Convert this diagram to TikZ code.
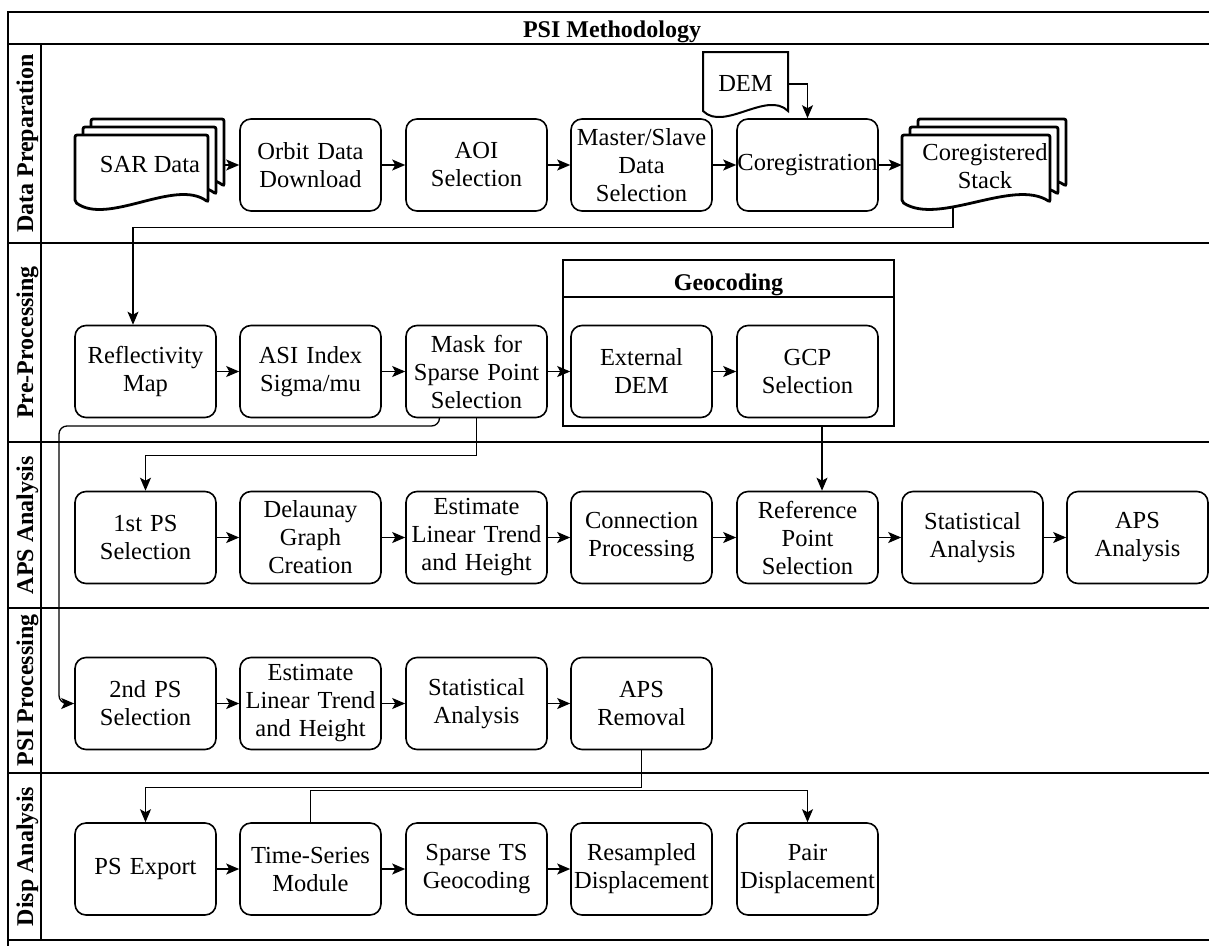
\documentclass[tikz,border=0pt]{standalone}
\usepackage{fontspec}
\setmainfont{Liberation Serif}
\usetikzlibrary{arrows.meta}

\begin{document}
\begin{tikzpicture}[x=1pt,y=-1pt]
	\tikzstyle{proc}=[draw, line width=1.6pt, rounded corners=11pt, text width=141pt, minimum height=92pt, inner sep=0pt, align=center, font=\fontsize{24.5}{28}\selectfont]
	\tikzstyle{lanetitle}=[rotate=90, anchor=base, font=\bfseries\fontsize{24}{28}\selectfont]
	\tikzstyle{arr}=[-{Stealth[length=13pt,width=11pt,inset=3pt]}, line width=1.3pt]
	\tikzstyle{sheet}=[draw, fill=white, line width=2.8pt, rounded corners=2pt]
	\tikzstyle{pool}=[line width=2pt]
	
	\path[use as bounding box, clip] (0,0) rectangle (1209,945);
	
	% pool and lanes
	\draw[pool] (1220,12) -- (8,12) -- (8,950);
	\foreach \y in {44,243,442,608,773,940}
		\draw[pool] (8,\y) -- (1220,\y);
	\draw[pool] (41,44) -- (41,940);
	\node[font=\bfseries\fontsize{24}{28}\selectfont, anchor=base] (title) at (612,37) {PSI Methodology};
	\node[lanetitle] (lprep) at (33,143.5) {Data Preparation};
	\node[lanetitle] (lpre) at (33,342.5) {Pre-Processing};
	\node[lanetitle] (laps) at (33,525) {APS Analysis};
	\node[lanetitle] (lpsi) at (33,690.5) {PSI Processing};
	\node[lanetitle] (ldisp) at (33,856.5) {Disp Analysis};
	
	% Data Preparation
	\foreach \s in {16,8,0}{
		\draw[sheet, shift={(\s,-\s)}] (208,202) .. controls (175,178) and (108,226) .. (75,202) -- (75,135) -- (208,135) -- cycle;
		\draw[sheet, shift={(\s,-\s)}] (1050,202) .. controls (1013,178) and (939,226) .. (902,202) -- (902,135) -- (1050,135) -- cycle;
	}
	\draw[line width=2pt, fill=white] (788,111) .. controls (767,90) and (724,132) .. (703,111) -- (703,52) -- (788,52) -- cycle;
	\node[minimum width=150pt, minimum height=90pt, inner sep=0pt, font=\fontsize{24.5}{28}\selectfont] (sar) at (150,165) {SAR Data};
	\node[minimum width=166pt, minimum height=80pt, inner sep=0pt, align=center, font=\fontsize{24.5}{28}\selectfont] (stack) at (985,166) {Coregistered\\Stack};
	\node[minimum width=85pt, minimum height=54pt, inner sep=0pt, font=\fontsize{24.5}{28}\selectfont] (dem) at (745.5,84) {DEM};
	\node[proc] (orbit) at (310.5,165) {Orbit Data\\Download};
	\node[proc] (aoi) at (476.5,165) {AOI\\Selection};
	\node[proc] (ms) at (641.5,165) {Master/Slave\\Data\\Selection};
	\node[proc] (coreg) at (807.5,165) {Coregistration};
	
	% Pre-Processing
	\node[draw, line width=1.8pt, minimum width=331pt, minimum height=166pt, inner sep=0pt] (geo) at (728.5,343) {};
	\draw[line width=1.8pt] (geo.north west) ++(0,38) -- ++(331,0);
	\node[font=\bfseries\fontsize{24}{28}\selectfont, anchor=base] (geotitle) at (728.5,290) {Geocoding};
	\node[proc] (refl) at (145.5,371.5) {Reflectivity\\Map};
	\node[proc] (asi) at (310.5,371.5) {ASI Index\\Sigma/mu};
	\node[proc] (mask) at (476.5,371.5) {Mask for\\Sparse Point\\Selection};
	\node[proc] (extdem) at (641.5,371.5) {External\\DEM};
	\node[proc] (gcp) at (807.5,371.5) {GCP\\Selection};
	
	% APS Analysis
	\node[proc] (ps1) at (145.5,537.5) {1st PS\\Selection};
	\node[proc] (delaunay) at (310.5,537.5) {Delaunay\\Graph\\Creation};
	\node[proc] (est1) at (476.5,537.5) {Estimate\\Linear Trend\\and Height};
	\node[proc] (conn) at (641.5,537.5) {Connection\\Processing};
	\node[proc] (refpt) at (807.5,537.5) {Reference\\Point\\Selection};
	\node[proc] (stat1) at (972.5,537.5) {Statistical\\Analysis};
	\node[proc] (apsa) at (1137.5,537.5) {APS\\Analysis};
	
	% PSI Processing
	\node[proc] (ps2) at (145.5,703.5) {2nd PS\\Selection};
	\node[proc] (est2) at (310.5,703.5) {Estimate\\Linear Trend\\and Height};
	\node[proc] (stat2) at (476.5,703.5) {Statistical\\Analysis};
	\node[proc] (apsr) at (641.5,703.5) {APS\\Removal};
	
	% Disp Analysis
	\node[proc] (export) at (145.5,869) {PS Export};
	\node[proc] (ts) at (310.5,869) {Time-Series\\Module};
	\node[proc] (sts) at (476.5,869) {Sparse TS\\Geocoding};
	\node[proc] (resamp) at (641.5,869) {Resampled\\Displacement};
	\node[proc] (pair) at (807.5,869) {Pair\\Displacement};
	
	% connectors
	\draw[arr] (sar.east) -- (sar.east -| orbit.west);
	\draw[arr] (orbit) -- (aoi);
	\draw[arr] (aoi) -- (ms);
	\draw[arr] (ms) -- (coreg);
	\draw[arr] (coreg.east) -- (coreg.east -| stack.west);
	\draw[arr] (dem.east) -| (coreg.north);
	\draw[arr] ([xshift=-32pt]stack.south) -- ++(0,21) -| ([xshift=-12.5pt]refl.north);
	
	\draw[arr] (refl) -- (asi);
	\draw[arr] (asi) -- (mask);
	\draw[arr] (mask) -- (extdem);
	\draw[arr] (extdem) -- (gcp);
	\draw[arr] (mask.south) -- ++(0,37) -| (ps1.north);
	\draw[arr, rounded corners=8pt] ([xshift=-37pt]mask.south) |- (59,426) |- (ps2.west);
	\draw[arr] ([xshift=93.5pt]geo.south) -- ([xshift=14.5pt]refpt.north);
	
	\draw[arr] (ps1) -- (delaunay);
	\draw[arr] (delaunay) -- (est1);
	\draw[arr] (est1) -- (conn);
	\draw[arr] (conn) -- (refpt);
	\draw[arr] (refpt) -- (stat1);
	\draw[arr] (stat1) -- (apsa);
	
	\draw[arr] (ps2) -- (est2);
	\draw[arr] (est2) -- (stat2);
	\draw[arr] (stat2) -- (apsr);
	\draw[arr] (apsr.south) -- ++(0,37) -| (export.north);
	
	\draw[arr] (export) -- (ts);
	\draw[arr] (ts) -- (sts);
	\draw[arr] (sts) -- (resamp);
	\draw[arr] (ts.north) -- ++(0,-32) -| (pair.north);
\end{tikzpicture}
\end{document}
